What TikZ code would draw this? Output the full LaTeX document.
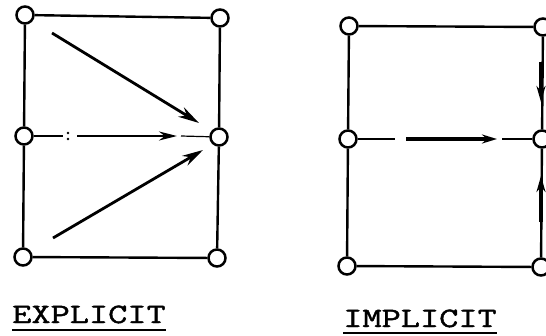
\documentclass[tikz,border=0pt]{standalone}
\usepackage{fontspec}
\newfontfamily\capfont{Latin Modern Mono}[FakeStretch=1.33, FakeBold=1.6]
\usetikzlibrary{arrows.meta, positioning}

\begin{document}
\begin{tikzpicture}[
    x=1pt, y=-1pt,
    vert/.style={circle, draw, line width=2.5pt, fill=white, minimum size=17pt, inner sep=0pt},
    edge/.style={line width=2.4pt},
    faint/.style={line width=1.2pt},
    flow/.style={line width=2.8pt, -{Stealth[length=21pt, width=11pt]}},
    heavy/.style={line width=4.2pt, -{Stealth[length=16pt, width=9pt]}},
    scheme/.style={font=\capfont\fontsize{28}{28}\selectfont, inner sep=0pt, anchor=base},
]
\useasboundingbox (0,0) rectangle (546,335);

% explicit grid
\node[vert] (etl) at (25,15) {};
\node[vert] (etr) at (220,18) {};
\node[vert] (eml) at (24,136) {};
\node[vert] (emr) at (219,137) {};
\node[vert] (ebl) at (23,257) {};
\node[vert] (ebr) at (217,258) {};
\draw[edge] (etl) -- (etr);
\draw[edge] (ebl) -- (ebr);
\draw[edge] (etl) -- (eml) -- (ebl);
\draw[edge] (etr) -- (emr) -- (ebr);

% implicit grid
\node[vert] (itl) at (349,26) {};
\node[vert] (itr) at (543,27) {};
\node[vert] (iml) at (348,139) {};
\node[vert] (imr) at (542,139) {};
\node[vert] (ibl) at (347,266) {};
\node[vert] (ibr) at (541,267) {};
\draw[edge] (itl) -- (itr);
\draw[edge] (ibl) -- (ibr);
\draw[edge] (itl) -- (iml) -- (ibl);
\draw[edge] (itr) -- (imr) -- (ibr);

% arrows, explicit
\coordinate (ea1) at (52,33);
\coordinate (eb1) at (199,123);
\coordinate (ea2) at (53,238);
\coordinate (eb2) at (203,150);
\coordinate (em1) at (63,136);
\coordinate (em2) at (77,136);
\coordinate (em3) at (177,136);
\coordinate (em4) at (181,136);
\draw[flow] (ea1) -- (eb1);
\draw[flow] (ea2) -- (eb2);
\draw[faint] (eml) -- (em1);
\draw[flow, line width=2.2pt, -{Stealth[length=18pt, width=9pt]}] (em2) -- (em3);
\draw[faint] (em4) -- (emr);
\fill (68,133) circle (1.3pt) (68,139) circle (1.3pt);

% arrows, implicit
\coordinate (im1) at (395,139);
\coordinate (im2) at (406,139);
\coordinate (im3) at (497,139);
\coordinate (im4) at (502,139);
\draw[faint] (iml) -- (im1);
\draw[heavy, -{Stealth[length=15pt, width=9pt]}, line width=3.2pt] (im2) -- (im3);
\draw[faint] (im4) -- (imr);
\coordinate (iu1) at (541,62);
\coordinate (iu2) at (541,102);
\coordinate (id1) at (541,222);
\coordinate (id2) at (541,176);
\draw[heavy] (iu1) -- (iu2);
\draw[heavy] (id1) -- (id2);

% captions
\node[scheme] (cexp) at (89,323) {EXPLICIT};
\node[scheme] (cimp) at (420,327) {IMPLICIT};
\draw[edge, line width=2pt] ([yshift=-7pt]cexp.base west) -- ([yshift=-7pt]cexp.base east);
\draw[edge, line width=2pt] ([yshift=-6pt]cimp.base west) -- ([yshift=-6pt]cimp.base east);
\end{tikzpicture}
\end{document}
